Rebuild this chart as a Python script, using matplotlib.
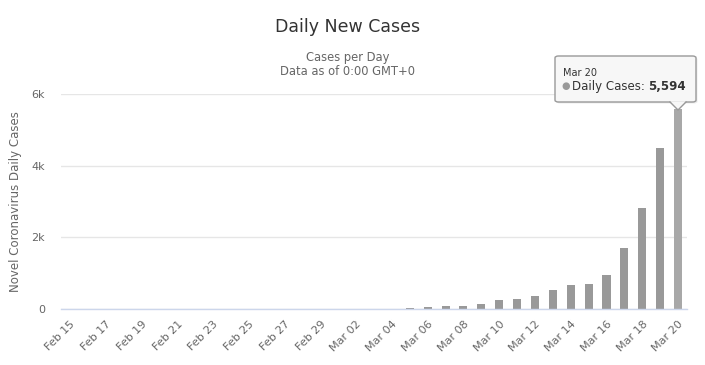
import matplotlib
matplotlib.use("Agg")
import matplotlib.pyplot as plt
from matplotlib.patches import Polygon, FancyBboxPatch
from matplotlib.lines import Line2D

categories = ["Feb 15", "Feb 16", "Feb 17", "Feb 18", "Feb 19", "Feb 20", "Feb 21",
              "Feb 22", "Feb 23", "Feb 24", "Feb 25", "Feb 26", "Feb 27", "Feb 28",
              "Feb 29", "Mar 01", "Mar 02", "Mar 03", "Mar 04", "Mar 05", "Mar 06",
              "Mar 07", "Mar 08", "Mar 09", "Mar 10", "Mar 11", "Mar 12", "Mar 13",
              "Mar 14", "Mar 15", "Mar 16", "Mar 17", "Mar 18", "Mar 19", "Mar 20"]
daily_cases = [0, 0, 0, 0, 0, 0, 0, 0, 0, 0, 0, 0, 0, 0, 0,
               6, 4, 9, 10,
               35, 60, 85, 85, 140, 250, 280, 365, 530, 670, 700, 950,
               1705, 2825, 4500, 5594]
y_ticks = [0, 2000, 4000, 6000]
y_tick_labels = ["0", "2k", "4k", "6k"]

W, H = 705, 365
fig = plt.figure(figsize=(W / 100, H / 100), dpi=100)
plt.rcParams['font.family'] = ['DejaVu Sans']

def fx(px):
    return px / W

def fy(py):
    return 1 - py / H

left, right, top, bottom = 61, 687, 94, 309
ax = fig.add_axes([fx(left), fy(bottom), fx(right) - fx(left), fy(top) - fy(bottom)])

x = list(range(len(categories)))
colors = ["#999999"] * (len(categories) - 1) + ["#a8a8a8"]
ax.bar(x, daily_cases, width=0.45, color=colors, zorder=3)

ax.set_xlim(-0.5, len(categories) - 0.5)
ax.set_ylim(0, 6000)
ax.set_yticks(y_ticks)
ax.set_yticklabels(y_tick_labels, fontsize=8, color="#666666")
ax.tick_params(axis='y', length=0, pad=11.5)
ax.yaxis.grid(True, color="#e6e6e6", linewidth=1, zorder=0)
for s in ["top", "right", "left"]:
    ax.spines[s].set_visible(False)
ax.spines["bottom"].set_color("#ccd6eb")
ax.spines["bottom"].set_linewidth(1)
ax.spines["bottom"].set_zorder(4)

ax.set_xticks(x[::2])
ax.set_xticklabels(categories[::2], rotation=45, ha="right", va="top",
                   rotation_mode="anchor", fontsize=8, color="#666666")
ax.tick_params(axis='x', length=0, pad=7)

fig.text(fx(16), fy(201.5), "Novel Coronavirus Daily Cases", rotation=90,
         ha="center", va="center", fontsize=8.5, color="#666666")

fig.text(fx(348), fy(27), "Daily New Cases", ha="center", va="center",
         fontsize=12.5, color="#333333")
fig.text(fx(348), fy(57.5), "Cases per Day", ha="center", va="center",
         fontsize=8.3, color="#666666")
fig.text(fx(348), fy(71.5), "Data as of 0:00 GMT+0", ha="center", va="center",
         fontsize=8.3, color="#666666")

# tooltip
bx0, by0, bx1, by1 = 555, 56, 696, 102
tip_x, tip_y, half = 678, 110, 8
sh = FancyBboxPatch((fx(bx0 + 1.5), fy(by1 + 1.5)), fx(bx1) - fx(bx0), fy(by0) - fy(by1),
                    boxstyle="round,pad=0,rounding_size=0.005", transform=fig.transFigure,
                    facecolor="#000000", alpha=0.08, edgecolor="none", zorder=9)
fig.add_artist(sh)
box = FancyBboxPatch((fx(bx0), fy(by1)), fx(bx1) - fx(bx0), fy(by0) - fy(by1),
                     boxstyle="round,pad=0,rounding_size=0.005", transform=fig.transFigure,
                     facecolor="#f7f7f7", edgecolor="#999999", linewidth=1, zorder=10)
fig.add_artist(box)
tri = Polygon([(fx(tip_x - half), fy(by1 - 0.8)), (fx(tip_x + half), fy(by1 - 0.8)),
               (fx(tip_x), fy(tip_y))], closed=True, transform=fig.transFigure,
              facecolor="#f7f7f7", edgecolor="none", zorder=10.5)
fig.add_artist(tri)
fig.add_artist(Line2D([fx(tip_x - half), fx(tip_x), fx(tip_x + half)],
                      [fy(by1), fy(tip_y), fy(by1)], transform=fig.transFigure,
                      color="#999999", linewidth=1, zorder=10.6))
fig.text(fx(563), fy(73), "Mar 20", ha="left", va="center", fontsize=7,
         color="#333333", zorder=11)
fig.text(fx(566), fy(86.5), "\u25cf", ha="center", va="center", fontsize=7,
         color="#999999", zorder=11)
fig.text(fx(572), fy(86.5), "Daily Cases:", ha="left", va="center", fontsize=8.5,
         color="#333333", zorder=11)
fig.text(fx(686), fy(86.5), "5,594", ha="right", va="center", fontsize=8.5,
         color="#333333", fontweight="bold", zorder=11)

fig.savefig("out.png", dpi=100)
